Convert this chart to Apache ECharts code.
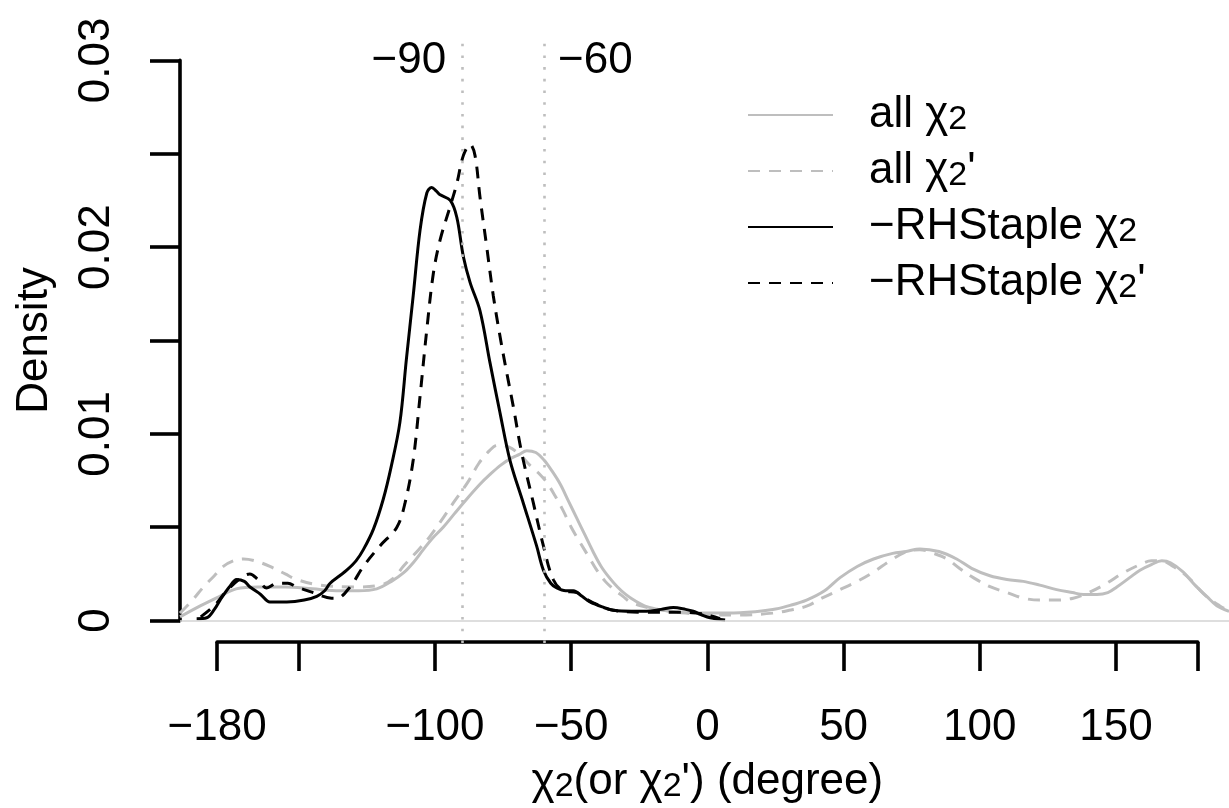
<!DOCTYPE html>
<html><head><meta charset="utf-8">
<script src="https://cdn.jsdelivr.net/npm/echarts@6/dist/echarts.min.js"></script>
<style>html,body{margin:0;padding:0;background:#fff}#c{width:1229px;height:808px}</style>
</head><body><div id="c"></div>
<script>
// ---------- data ----------
const allChi2X = [-193.6,-186,-179,-173,-165,-155,-145,-135,-128,-121.4,-116,-111.6,-108,-104.3,-101,-97,-93,-88.4,-83.5,-80,-76.1,-72,-69,-66.3,-63,-60,-57,-54,-51,-48,-45,-42,-39,-36,-33,-30,-27,-22.3,-16,-10,0,12,24,30,36.4,43,48.7,55,61,68,73,78,85,91.5,97,103.7,110,116,122,128.2,134,138,143,147,150.3,155,158.8,163,166.8,170,174.7,179,183.3,187,191.5];
const allChi2Y = [0.0002,0.0008,0.0013,0.0017,0.0018,0.0018,0.0017,0.0016,0.0016,0.0017,0.0021,0.00255,0.0031,0.0038,0.0044,0.005,0.0057,0.0065,0.0073,0.0078,0.0083,0.0087,0.0089,0.0091,0.009,0.0086,0.008,0.0073,0.0064,0.0055,0.0046,0.0037,0.0029,0.0023,0.0018,0.0014,0.0011,0.00075,0.00055,0.00044,0.0004,0.00042,0.00059,0.0008,0.0011,0.0016,0.0023,0.0029,0.0033,0.0036,0.0037,0.00384,0.0037,0.0033,0.0028,0.0024,0.0022,0.0021,0.0019,0.00166,0.0015,0.0014,0.0014,0.0015,0.0018,0.0023,0.0027,0.003,0.0032,0.0031,0.0026,0.0019,0.0013,0.0008,0.0005];

const allChi2pX = [-193.6,-189,-185,-181,-177.7,-174,-170.3,-166,-160.6,-155,-150.8,-142,-130,-120,-115,-111.7,-106,-101.9,-97,-93.3,-88,-84,-80,-77,-73,-69,-65,-62,-59,-56,-53,-50,-46.8,-43.5,-40.6,-37.5,-34.6,-31,-28.4,-22,-16.3,-8,2,12,24,30,36.4,42,48.7,55,61,67,73.2,78,83,88,92.5,97.6,104,110,116,122,128,134.3,140,146.6,152,158.8,163,166.8,171,175,178,181,184,188,191.5];
const allChi2pY = [0.0004,0.0011,0.0018,0.0024,0.0029,0.0032,0.0033,0.0032,0.0029,0.0025,0.0022,0.0019,0.0018,0.0019,0.0023,0.0029,0.0038,0.0045,0.0055,0.0063,0.0074,0.0084,0.0091,0.0094,0.0093,0.0089,0.0083,0.0079,0.0074,0.0067,0.0059,0.005,0.0042,0.0034,0.0027,0.0021,0.0017,0.0013,0.001,0.0007,0.00055,0.0004,0.0003,0.0003,0.0004,0.00055,0.00077,0.0012,0.00166,0.0021,0.0026,0.0032,0.0037,0.0038,0.0036,0.0033,0.0028,0.0023,0.0018,0.0015,0.0012,0.0011,0.0011,0.0012,0.0015,0.002,0.0025,0.003,0.0032,0.0032,0.0029,0.0025,0.0021,0.0016,0.0012,0.0008,0.0005];

const rhChi2X = [-187.5,-183.8,-181,-178.9,-175.5,-172.8,-170,-167.9,-164,-160.6,-154.4,-148,-143.4,-140.5,-138.5,-135,-132.4,-129,-126.3,-122.6,-119,-116,-112.9,-110.5,-108,-105.5,-103,-101.2,-99.5,-98.1,-94.4,-92,-89.6,-87.1,-83.5,-79.8,-76.1,-72.5,-67.6,-62.7,-60.2,-57.5,-55.3,-52,-49.2,-46,-43.1,-38,-34.5,-28,-22.3,-17,-12.5,-8,-5.2,-2,1,6.5];
const rhChi2Y = [0.0001,0.00015,0.0006,0.0011,0.0018,0.0022,0.0021,0.0018,0.0014,0.001,0.001,0.0011,0.0013,0.0016,0.002,0.0024,0.0027,0.0032,0.0038,0.0049,0.0065,0.0083,0.0106,0.014,0.0174,0.0209,0.0229,0.0232,0.023,0.0228,0.0225,0.0216,0.0195,0.0181,0.0166,0.0138,0.0111,0.0086,0.0063,0.004,0.0027,0.002,0.00175,0.0016,0.0016,0.0013,0.001,0.0007,0.00055,0.0005,0.0005,0.0006,0.0007,0.0006,0.0005,0.0003,0.00015,0.00003];

const rhChi2pX = [-186,-181,-177,-172,-168,-165,-161.8,-158,-154,-150.8,-144.7,-138,-136,-131.2,-126.3,-120.2,-114,-111,-108,-105.5,-103,-100.6,-98.1,-94.4,-92,-89.6,-87.1,-85.3,-83.5,-81,-78.6,-76.1,-73.7,-71.3,-68.2,-63.9,-60.2,-56.6,-52.9,-48,-45,-41.9,-34.5,-22.3,-10,-3.9,0,4.6];
const rhChi2pY = [0.0002,0.0008,0.0015,0.0022,0.0025,0.0022,0.00175,0.002,0.002,0.0018,0.0015,0.0012,0.0012,0.0018,0.0029,0.004,0.005,0.0063,0.0086,0.012,0.0156,0.0186,0.0204,0.0222,0.0234,0.0249,0.0255,0.0249,0.0227,0.02,0.0174,0.0152,0.0133,0.0115,0.009,0.0063,0.004,0.0022,0.0016,0.0015,0.0012,0.00095,0.00055,0.00045,0.00045,0.0004,0.0003,0.0001];

const seriesNames = ['all χ₂', "all χ₂'", '−RHStaple χ₂', "−RHStaple χ₂'"];
const refLines = [-90, -60];
const refLabels = ['−90', '−60'];
const xTicks = [-180, -150, -100, -50, 0, 50, 100, 150, 180];
const xTickLabels = [-180, -100, -50, 0, 50, 100, 150];
const yTicks = [0, 0.005, 0.01, 0.015, 0.02, 0.025, 0.03];
const yTickLabels = [0, 0.01, 0.02, 0.03];
const xTitle = "χ₂(or χ₂') (degree)";
const yTitle = 'Density';

// ---------- layout ----------
const FONT = 'Liberation Sans';
const FS = 44;
const X0PX = 707.4, PXU = 2.724;          // px of x=0, px per degree
const PL = 180, PR = 1229, PT = 38, PB = 643;
const YLO = -0.0012, YHI = 0.0312;
const PXY = (PB - PT) / (YHI - YLO);
const xMin = (PL - X0PX) / PXU, xMax = (PR - X0PX) / PXU;
const yAxTop = PB - (0.03 - YLO) * PXY, yAxBot = PB - (0 - YLO) * PXY;
const GRAY = '#bebebe';
const LW = 3;
const AW = 3.6;
const DASH = [12, 9];

const RICH = {
  n: {fontSize: FS, lineHeight: 44, fontFamily: FONT, color: '#000'},
  s: {fontSize: 34, lineHeight: 12, verticalAlign: 'bottom', fontFamily: FONT, color: '#000'}
};
const toRich = s => '{n|' + s.replace(/₂/g, '}{s|2}{n|') + '}';

const zip = (xs, ys) => xs.map((v, i) => [v, ys[i]]);
const minus = v => (v < 0 ? '−' + Math.abs(v) : String(v));

const chart = echarts.init(document.getElementById('c'), null, {renderer: 'canvas'});

function lineSeries(name, xs, ys, color, type, extra) {
  return Object.assign({
    type: 'line', name, xAxisIndex: 0, yAxisIndex: 0,
    data: zip(xs, ys), smooth: 0.35, symbol: 'none', showSymbol: false,
    lineStyle: {color, width: LW, type, cap: 'butt'},
    itemStyle: {color}, silent: true, clip: true
  }, extra || {});
}

chart.setOption({
  animation: false,
  backgroundColor: '#fff',
  textStyle: {fontFamily: FONT},
  grid: [
    {left: PL, top: PT, width: PR - PL, height: PB - PT},
    {left: PL, top: yAxTop, width: 1, height: yAxBot - yAxTop},
    {left: X0PX - 180 * PXU, top: PB - 2, width: 360 * PXU, height: 1}
  ],
  xAxis: [
    {gridIndex: 0, type: 'value', min: xMin, max: xMax, show: false},
    {gridIndex: 1, type: 'value', show: false},
    {gridIndex: 2, type: 'value', min: -180, max: 180, position: 'bottom',
      axisLine: {show: true, lineStyle: {color: '#000', width: AW}},
      axisTick: {show: true, length: 29, lineStyle: {color: '#000', width: AW}, customValues: xTicks},
      axisLabel: {customValues: xTickLabels, margin: 64, fontSize: FS, fontFamily: FONT, color: '#000', formatter: minus},
      splitLine: {show: false},
      name: toRich(xTitle), nameLocation: 'middle', nameGap: 118,
      nameTextStyle: {fontSize: FS, fontFamily: FONT, color: '#000', rich: RICH}}
  ],
  yAxis: [
    {gridIndex: 0, type: 'value', min: YLO, max: YHI, show: false},
    {gridIndex: 1, type: 'value', min: 0, max: 0.03, position: 'left',
      axisLine: {show: true, lineStyle: {color: '#000', width: AW}},
      axisTick: {show: true, length: 30, lineStyle: {color: '#000', width: AW}, customValues: yTicks},
      axisLabel: {customValues: yTickLabels, rotate: 90, margin: 61, fontSize: FS, fontFamily: FONT, color: '#000',
        formatter: v => (v === 0 ? '0' : v.toFixed(2))},
      splitLine: {show: false},
      name: yTitle, nameLocation: 'middle', nameGap: 123, nameRotate: 90,
      nameTextStyle: {fontSize: FS, fontFamily: FONT, color: '#000'}},
    {gridIndex: 2, type: 'value', show: false}
  ],
  legend: {
    data: seriesNames, orient: 'vertical', left: 747, top: 93, padding: 0,
    itemWidth: 85, itemHeight: 14, itemGap: 12,
    itemStyle: {opacity: 0},
    formatter: name => toRich(name),
    textStyle: {fontSize: FS, lineHeight: 44, fontFamily: FONT, color: '#000', padding: [0, 0, 0, 31], rich: RICH},
    selectedMode: false
  },
  series: [
    lineSeries(seriesNames[0], allChi2X, allChi2Y, GRAY, 'solid', {
      markLine: {
        silent: true, symbol: 'none', animation: false,
        label: {show: false},
        data: [
          {yAxis: 0, lineStyle: {color: '#d3d3d3', width: 1.6, type: 'solid'}},
          ...refLines.map(v => ({xAxis: v, lineStyle: {color: GRAY, width: 2.6, type: [2.6, 9.1], cap: 'butt'}}))
        ]
      }
    }),
    lineSeries(seriesNames[1], allChi2pX, allChi2pY, GRAY, DASH),
    lineSeries(seriesNames[2], rhChi2X, rhChi2Y, '#000', 'solid'),
    lineSeries(seriesNames[3], rhChi2pX, rhChi2pY, '#000', DASH)
  ]
});

// reference-line labels placed from the axis scale
const gfx = refLines.map((v, i) => {
  const p = chart.convertToPixel({gridIndex: 0}, [v, 0]);
  const left = i === 0;
  return {type: 'text', x: left ? p[0] - 16 : p[0] + 14, y: 61, silent: true,
    style: {text: refLabels[i], fontSize: FS, fontFamily: FONT, fill: '#000',
      align: left ? 'right' : 'left', verticalAlign: 'middle'}};
});
chart.setOption({graphic: gfx});
</script></body></html>
